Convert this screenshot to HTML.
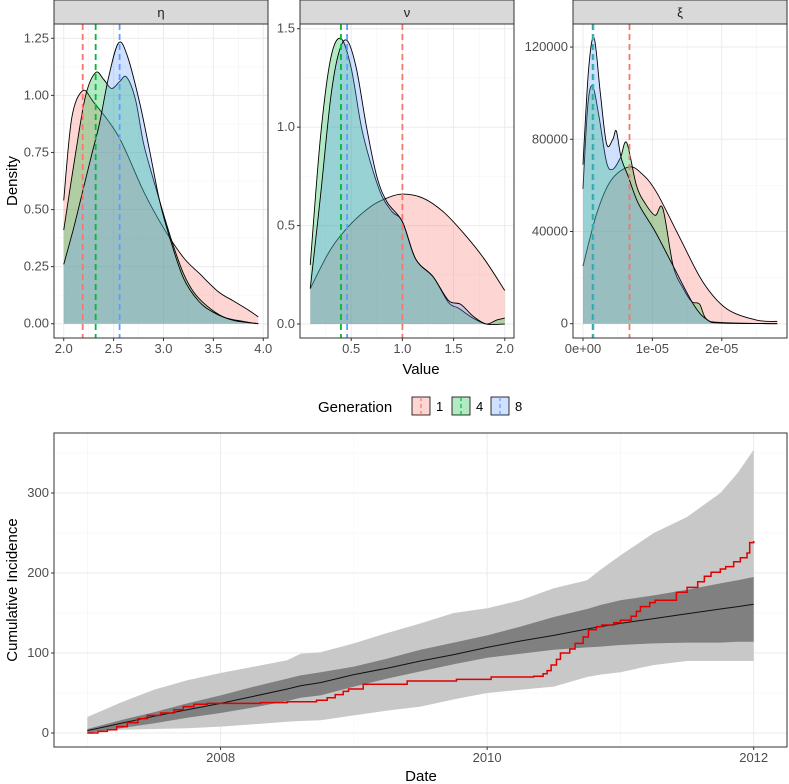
<!DOCTYPE html>
<html><head><meta charset="utf-8"><style>
html,body{margin:0;padding:0;background:#fff;}
svg{display:block;font-family:"Liberation Sans",sans-serif;}
</style></head><body>
<svg id="chart" width="789" height="784" viewBox="0 0 789 784" xmlns="http://www.w3.org/2000/svg"></svg>
<script>
// ===== DATA =====
const genLabels = ["1","4","8"];
const genColors = ["#F8766D","#00BA38","#619CFF"];
// eta panel densities
const etaX1 = [2.0,2.08,2.19,2.3,2.55,2.8,3.0,3.2,3.36,3.55,3.7,3.85,3.95];
const etaY1 = [0.54,0.90,1.02,0.97,0.82,0.58,0.42,0.29,0.22,0.14,0.10,0.06,0.03];
const etaX4 = [2.0,2.12,2.22,2.32,2.40,2.48,2.56,2.63,2.72,2.8,2.9,3.0,3.1,3.2,3.3,3.43,3.6,3.8,3.95];
const etaY4 = [0.41,0.75,1.00,1.10,1.07,1.03,1.06,1.08,0.98,0.79,0.63,0.48,0.34,0.22,0.14,0.08,0.03,0.01,0.0];
const etaX8 = [2.0,2.1,2.19,2.28,2.36,2.45,2.55,2.64,2.76,2.86,2.96,3.06,3.2,3.35,3.5,3.7,3.95];
const etaY8 = [0.26,0.42,0.58,0.74,0.88,1.08,1.23,1.17,0.97,0.76,0.54,0.38,0.2,0.1,0.05,0.015,0.0];
const etaMeans = [2.19,2.32,2.56];
// nu panel densities
const nuX1 = [0.1,0.3,0.5,0.7,0.85,1.0,1.2,1.4,1.6,1.8,2.0];
const nuY1 = [0.18,0.38,0.51,0.60,0.64,0.66,0.64,0.57,0.46,0.33,0.17];
const nuX4 = [0.1,0.2,0.3,0.4,0.5,0.6,0.7,0.8,0.9,1.0,1.13,1.3,1.45,1.55,1.69,1.82,1.92,2.0];
const nuY4 = [0.30,0.95,1.35,1.45,1.30,1.00,0.80,0.65,0.57,0.52,0.33,0.24,0.11,0.08,0.03,0.0,0.02,0.03];
const nuX8 = [0.1,0.2,0.3,0.38,0.46,0.55,0.65,0.75,0.85,1.0,1.13,1.3,1.45,1.57,1.69,1.82,2.0];
const nuY8 = [0.18,0.65,1.15,1.38,1.44,1.30,1.00,0.75,0.62,0.52,0.33,0.24,0.12,0.10,0.04,0.0,0.0];
const nuMeans = [1.0,0.40,0.46];
// xi panel densities
const xiX1 = [0,2e-6,4e-6,6.6e-6,8.5e-6,1.06e-5,1.4e-5,1.73e-5,2.07e-5,2.5e-5,2.8e-5];
const xiY1 = [25000,48000,62000,68000,65000,57000,37000,18000,6500,1600,1000];
const xiX4 = [0,0.7e-6,1.4e-6,2.3e-6,3.4e-6,4.3e-6,5.4e-6,6.3e-6,7.7e-6,9e-6,1.04e-5,1.15e-5,1.3e-5,1.45e-5,1.57e-5,1.68e-5,1.78e-5,2e-5,2.8e-5];
const xiY4 = [58500,95000,103000,90000,70000,67000,72000,78500,60000,52000,47000,50000,25000,15000,9500,8500,2000,500,0];
const xiX8 = [0,0.8e-6,1.6e-6,2.5e-6,3.4e-6,4.3e-6,4.8e-6,5.5e-6,6.5e-6,8e-6,1.04e-5,1.3e-5,1.6e-5,1.8e-5,2e-5,2.8e-5];
const xiY8 = [69000,110000,124000,100000,78000,80000,83600,72000,64000,52000,40000,25000,8000,1500,300,0];
const xiMeans = [6.7e-6,1.4e-6,1.5e-6];
// bottom: cumulative incidence
const bandYears = [2007,2007.25,2007.5,2007.75,2008,2008.25,2008.5,2008.6,2008.75,2009,2009.25,2009.5,2009.75,2010,2010.25,2010.5,2010.75,2010.85,2011,2011.25,2011.5,2011.75,2011.88,2012];
const outerHi = [20,38,54,66,75,83,91,99,101,112,125,137,150,156,166,181,191,204,222,250,270,300,325,354];
const outerLo = [0,4,5,6,8,11,14,15,16,22,28,33,42,50,54,58,70,73,76,85,90,90,90,90];
const innerHi = [5,16,26,37,47,58,68,72,76,83,93,104,113,122,133,145,155,160,166,172,179,187,191,195];
const innerLo = [0,6,12,19,25,32,40,44,47,58,68,77,86,94,99,104,107,108,110,112,113,113,114,114];
const medY = [3,12,21,29,37,46,55,59,63,73,81,90,98,107,115,122,130,133,137,143,149,155,158,161];
const obsYears = [2007,2007.08,2007.15,2007.22,2007.3,2007.38,2007.45,2007.55,2007.65,2007.72,2007.8,2007.9,2008.3,2008.5,2008.72,2008.8,2008.86,2008.92,2008.96,2009.07,2009.4,2009.77,2010.03,2010.35,2010.42,2010.45,2010.48,2010.52,2010.55,2010.62,2010.66,2010.72,2010.76,2010.82,2010.86,2010.95,2011.0,2011.08,2011.12,2011.15,2011.22,2011.26,2011.42,2011.5,2011.58,2011.63,2011.68,2011.75,2011.79,2011.85,2011.9,2011.95,2011.97,2012];
const obsY = [0,2,4,8,13,18,22,25,29,33,36,37,38,39,41,44,48,52,55,61,65,67,70,71,74,78,85,92,100,105,112,120,129,133,135,138,141,146,152,158,163,166,176,182,189,196,201,205,208,214,219,225,238,240];

// ===== HELPERS =====
const NS="http://www.w3.org/2000/svg";
const svg=document.getElementById('chart');
function mk(tag,attrs,parent){const e=document.createElementNS(NS,tag);for(const k in attrs)e.setAttribute(k,attrs[k]);(parent||svg).appendChild(e);return e;}
function smooth(pts){let d="M"+pts[0][0]+","+pts[0][1];for(let i=0;i<pts.length-1;i++){const p0=pts[i-1]||pts[i],p1=pts[i],p2=pts[i+1],p3=pts[i+2]||p2;const c1=[p1[0]+(p2[0]-p0[0])/6,p1[1]+(p2[1]-p0[1])/6],c2=[p2[0]-(p3[0]-p1[0])/6,p2[1]-(p3[1]-p1[1])/6];d+=`C${c1[0]},${c1[1]} ${c2[0]},${c2[1]} ${p2[0]},${p2[1]}`;}return d;}
function txt(s,attrs,name){const t=mk('text',attrs);t.textContent=s;return t;}

// ===== DENSITY PANELS =====
const panels=[
 {name:"eta",label:"η",x0:54,x1:268,xmin:1.9025,xmax:4.0475,ymin:-0.0625,ymax:1.3125,xt:[2,2.5,3,3.5,4],xl:["2.0","2.5","3.0","3.5","4.0"],xm:[2.25,2.75,3.25,3.75],yt:[0,0.25,0.5,0.75,1,1.25],yl:["0.00","0.25","0.50","0.75","1.00","1.25"],ym:[0.125,0.375,0.625,0.875,1.125],xs:[etaX1,etaX4,etaX8],ys:[etaY1,etaY4,etaY8],means:etaMeans},
 {name:"nu",label:"ν",x0:300,x1:514,xmin:0.0,xmax:2.09,ymin:-0.071,ymax:1.524,xt:[0.5,1,1.5,2],xl:["0.5","1.0","1.5","2.0"],xm:[0.25,0.75,1.25,1.75],yt:[0,0.5,1,1.5],yl:["0.0","0.5","1.0","1.5"],ym:[0.25,0.75,1.25],xs:[nuX1,nuX4,nuX8],ys:[nuY1,nuY4,nuY8],means:nuMeans},
 {name:"xi",label:"ξ",x0:573,x1:787,xmin:-1.44e-6,xmax:2.94e-5,ymin:-6200,ymax:130000,xt:[0,1e-5,2e-5],xl:["0e+00","1e-05","2e-05"],xm:[5e-6,1.5e-5,2.5e-5],yt:[0,40000,80000,120000],yl:["0","40000","80000","120000"],ym:[20000,60000,100000],xs:[xiX1,xiX4,xiX8],ys:[xiY1,xiY4,xiY8],means:xiMeans}
];
const PT=24,PB=338;
panels.forEach(p=>{
 const sx=v=>p.x0+(v-p.xmin)/(p.xmax-p.xmin)*(p.x1-p.x0);
 const sy=v=>PB-(v-p.ymin)/(p.ymax-p.ymin)*(PB-PT);
 const g=mk('g',{});
 
 
 p.xm.forEach(v=>mk('line',{x1:sx(v),x2:sx(v),y1:PT,y2:PB,stroke:"#f4f4f4","stroke-width":0.6},g));
 p.ym.forEach(v=>mk('line',{x1:p.x0,x2:p.x1,y1:sy(v),y2:sy(v),stroke:"#f4f4f4","stroke-width":0.6},g));
 p.xt.forEach(v=>mk('line',{x1:sx(v),x2:sx(v),y1:PT,y2:PB,stroke:"#ebebeb","stroke-width":1},g));
 p.yt.forEach(v=>mk('line',{x1:p.x0,x2:p.x1,y1:sy(v),y2:sy(v),stroke:"#ebebeb","stroke-width":1},g));
 for(let k=0;k<3;k++){
  const pts=p.xs[k].map((x,i)=>[sx(x),sy(p.ys[k][i])]);
  const base=sy(0);
  const d=smooth(pts);
  const area=mk('path',{d:d+`L${pts[pts.length-1][0]},${base}L${pts[0][0]},${base}Z`,fill:genColors[k],"fill-opacity":0.3,stroke:"none"},g);
  
  
  const ln=mk('path',{d:d,fill:"none",stroke:"#000","stroke-width":0.9},g);
  
  
 }
 for(let k=0;k<3;k++){
  const m=mk('line',{x1:sx(p.means[k]),x2:sx(p.means[k]),y1:PT,y2:PB,stroke:genColors[k],"stroke-width":1.8,"stroke-dasharray":"6,4"},g);
  
  
 }
 mk('rect',{x:p.x0,y:PT,width:p.x1-p.x0,height:PB-PT,fill:"none",stroke:"#333","stroke-width":1},g);
 const st=mk('rect',{x:p.x0,y:0,width:p.x1-p.x0,height:PT,fill:"#d9d9d9",stroke:"#333","stroke-width":1},g);
 
 
 txt(p.label,{x:(p.x0+p.x1)/2,y:17,"text-anchor":"middle","font-size":13,fill:"#1a1a1a"},p.name+'-strip-label');
 p.xt.forEach((v,i)=>{mk('line',{x1:sx(v),x2:sx(v),y1:PB,y2:PB+3,stroke:"#333"},g);txt(p.xl[i],{x:sx(v),y:PB+15,"text-anchor":"middle","font-size":13,fill:"#4d4d4d"},p.name+'-x-tick');});
 p.yt.forEach((v,i)=>{mk('line',{x1:p.x0-3,x2:p.x0,y1:sy(v),y2:sy(v),stroke:"#333"},g);txt(p.yl[i],{x:p.x0-5,y:sy(v)+4,"text-anchor":"end","font-size":13,fill:"#4d4d4d"},p.name+'-y-tick');});
});
txt("Density",{x:0,y:0,transform:"translate(17,181) rotate(-90)","text-anchor":"middle","font-size":15,fill:"#000"},'density-axis-title');
txt("Value",{x:421,y:374,"text-anchor":"middle","font-size":15,fill:"#000"},'value-axis-title');

// legend
txt("Generation",{x:318,y:412,"font-size":15,fill:"#000"},'legend-title');
const keyX=[412,452,491];
for(let k=0;k<3;k++){
 const r=mk('rect',{x:keyX[k],y:397,width:18,height:18,fill:genColors[k],"fill-opacity":0.3,stroke:"#000","stroke-width":0.8});
 
 
 mk('line',{x1:keyX[k]+9,x2:keyX[k]+9,y1:397,y2:415,stroke:genColors[k],"stroke-width":1.2,"stroke-dasharray":"4,3"});
 txt(genLabels[k],{x:keyX[k]+24,y:411,"font-size":13,fill:"#000"},'legend-label-gen'+genLabels[k]);
}

// ===== BOTTOM PANEL =====
const BX0=54,BX1=787,BT=433,BB=747;
const bx=v=>BX0+(v-2006.75)/(2012.25-2006.75)*(BX1-BX0);
const by=v=>733-v*0.8;
const yTicks=[0,100,200,300],yMinor=[50,150,250,350];
const xTicks=[2008,2010,2012],xMinor=[2007,2009,2011];
yMinor.forEach(v=>mk('line',{x1:BX0,x2:BX1,y1:by(v),y2:by(v),stroke:"#f4f4f4","stroke-width":0.6}));
xMinor.forEach(v=>mk('line',{x1:bx(v),x2:bx(v),y1:BT,y2:BB,stroke:"#f4f4f4","stroke-width":0.6}));
yTicks.forEach(v=>mk('line',{x1:BX0,x2:BX1,y1:by(v),y2:by(v),stroke:"#ebebeb"}));
xTicks.forEach(v=>mk('line',{x1:bx(v),x2:bx(v),y1:BT,y2:BB,stroke:"#ebebeb"}));
function band(hi,lo,col,name){
 let d="M"+bandYears.map((x,i)=>bx(x)+","+by(hi[i])).join("L");
 for(let i=bandYears.length-1;i>=0;i--)d+="L"+bx(bandYears[i])+","+by(lo[i]);
 const p=mk('path',{d:d+"Z",fill:col});
 
 
}
band(outerHi,outerLo,"#c8c8c8",'outer-interval-band');
band(innerHi,innerLo,"#808080",'inner-interval-band');
const med=mk('path',{d:"M"+bandYears.map((x,i)=>bx(x)+","+by(medY[i])).join("L"),fill:"none",stroke:"#111","stroke-width":1});


let od="M"+bx(obsYears[0])+","+by(obsY[0]);
for(let i=1;i<obsYears.length;i++){od+="H"+bx(obsYears[i])+"V"+by(obsY[i]);}
const obs=mk('path',{d:od,fill:"none",stroke:"#e00000","stroke-width":1.5});


mk('rect',{x:BX0,y:BT,width:BX1-BX0,height:BB-BT,fill:"none",stroke:"#333"});
yTicks.forEach(v=>{mk('line',{x1:BX0-3,x2:BX0,y1:by(v),y2:by(v),stroke:"#333"});txt(String(v),{x:BX0-5,y:by(v)+4,"text-anchor":"end","font-size":13,fill:"#4d4d4d"},'bottom-y-tick');});
xTicks.forEach(v=>{mk('line',{x1:bx(v),x2:bx(v),y1:BB,y2:BB+3,stroke:"#333"});txt(String(v),{x:bx(v),y:BB+15,"text-anchor":"middle","font-size":13,fill:"#4d4d4d"},'bottom-x-tick');});
txt("Cumulative Incidence",{x:0,y:0,transform:"translate(17,590) rotate(-90)","text-anchor":"middle","font-size":15,fill:"#000"},'cumulative-incidence-axis-title');
txt("Date",{x:421,y:781,"text-anchor":"middle","font-size":15,fill:"#000"},'date-axis-title');
</script>
</body></html>
